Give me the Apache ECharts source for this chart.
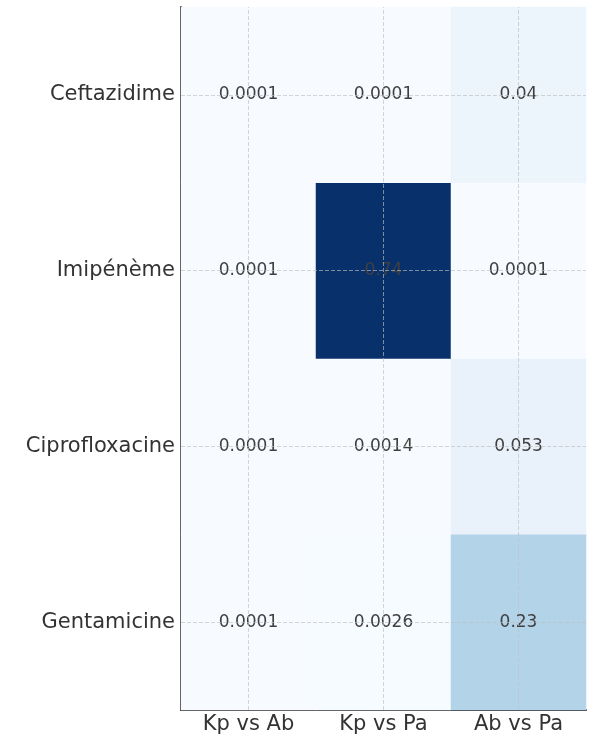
<!DOCTYPE html>
<html><head><meta charset="utf-8">
<script src="https://cdn.jsdelivr.net/npm/echarts@6/dist/echarts.min.js"></script>
<style>html,body{margin:0;padding:0;background:#fff}#c{width:598px;height:746px}</style>
</head><body><div id="c"></div>
<script>
const comparisons = ['Kp vs Ab', 'Kp vs Pa', 'Ab vs Pa'];
const antibiotics = ['Gentamicine', 'Ciprofloxacine', 'Imipénème', 'Ceftazidime'];
const ceftazidime = [0.0001, 0.0001, 0.04];
const imipeneme = [0.0001, 0.74, 0.0001];
const ciprofloxacine = [0.0001, 0.0014, 0.053];
const gentamicine = [0.0001, 0.0026, 0.23];
const rows = [gentamicine, ciprofloxacine, imipeneme, ceftazidime];
const data = [];
rows.forEach((r, yi) => r.forEach((v, xi) => data.push([xi, yi, v])));

const font = '"DejaVu Sans", sans-serif';
const chart = echarts.init(document.getElementById('c'));
chart.setOption({
  backgroundColor: '#ffffff',
  animation: false,
  grid: {left: 181, top: 7, right: 12, bottom: 36},
  xAxis: {
    type: 'category', data: comparisons,
    axisLine: {lineStyle: {color: '#333', width: 2}},
    axisTick: {alignWithLabel: true, length: 5, lineStyle: {color: '#333'}},
    axisLabel: {color: '#333', fontSize: 21, fontFamily: font, margin: 4},
    splitLine: {show: false}
  },
  yAxis: {
    type: 'category', data: antibiotics,
    axisLine: {lineStyle: {color: '#333', width: 2}},
    axisTick: {alignWithLabel: true, length: 5, lineStyle: {color: '#333'}},
    axisLabel: {color: '#333', fontSize: 21, fontFamily: font, margin: 6},
    splitLine: {show: false}
  },
  visualMap: {
    show: false, min: 0, max: 0.74, dimension: 2,
    inRange: {color: ['#f7fbff', '#deebf7', '#c6dbef', '#9ecae1', '#6baed6', '#4292c6', '#2171b5', '#08519c', '#08306b']}
  },
  series: [{
    type: 'heatmap',
    data: data,
    label: {
      show: true, fontSize: 17, fontFamily: font,
      formatter: p => String(p.value[2]),
      color: '#404040'
    },
    itemStyle: {borderWidth: 0},
    markLine: {
      silent: true, symbol: 'none', label: {show: false},
      lineStyle: {color: 'rgba(190,190,190,0.65)', type: [4, 2], width: 1},
      data: comparisons.map(c => ({xAxis: c})).concat(antibiotics.map(a => ({yAxis: a})))
    }
  }]
});
</script></body></html>
